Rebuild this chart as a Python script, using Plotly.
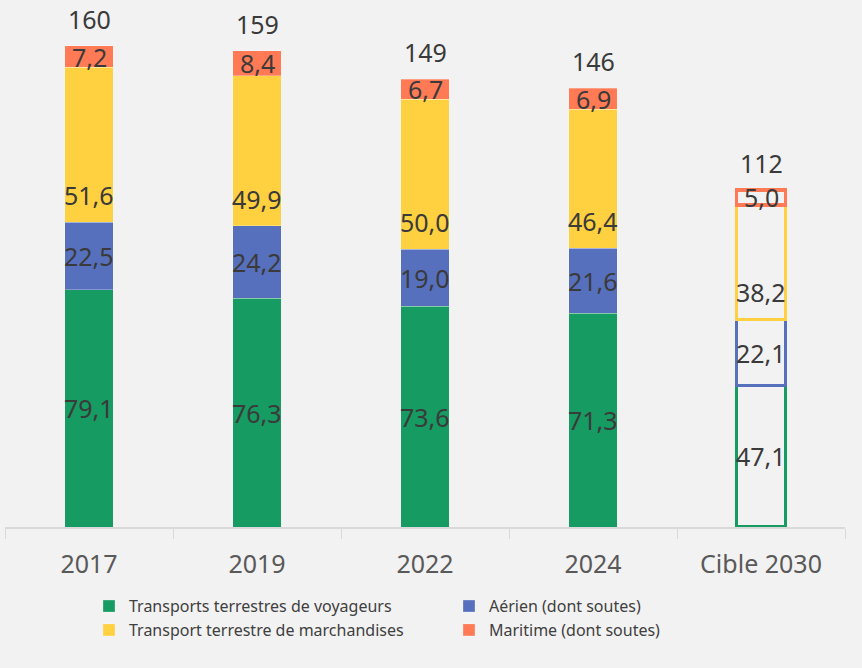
import plotly.graph_objects as go

categories = ["2017", "2019", "2022", "2024", "Cible 2030"]
voyageurs = [79.1, 76.3, 73.6, 71.3, 47.1]
aerien = [22.5, 24.2, 19.0, 21.6, 22.1]
marchandises = [51.6, 49.9, 50.0, 46.4, 38.2]
maritime = [7.2, 8.4, 6.7, 6.9, 5.0]

series = [
    ("Transports terrestres de voyageurs", voyageurs, "#169b62"),
    ("Aérien (dont soutes)", aerien, "#5770be"),
    ("Transport terrestre de marchandises", marchandises, "#ffd03f"),
    ("Maritime (dont soutes)", maritime, "#ff7a55"),
]

BG = "#f2f2f2"
TXT = "#3a3a3a"


def fr(v):
    return f"{v:.1f}".replace(".", ",")


fig = go.Figure()
annotations = []
base = [0.0] * len(categories)
for name, vals, col in series:
    n = len(vals)
    fig.add_trace(go.Bar(
        x=categories,
        y=vals,
        name=name,
        width=0.29,
        marker=dict(
            color=[col] * (n - 1) + ["rgba(0,0,0,0)"],
            line=dict(color=["rgba(255,255,255,0.35)"] * (n - 1) + [col],
                      width=[0.8] * (n - 1) + [3.5]),
        ),
        hoverinfo="x+y+name",
    ))
    for i, v in enumerate(vals):
        # yellow segment labels sit near the base (Excel "inside base")
        if name.startswith("Transport terrestre de"):
            ypos = base[i] + 9
        else:
            ypos = base[i] + v / 2
        # category index used as x (category axis)
        annotations.append(dict(x=i, y=ypos, text=fr(v), showarrow=False,
                                font=dict(size=25, color=TXT), yanchor="middle"))
        base[i] += v

# totals above bars
for i, tot in enumerate(base):
    annotations.append(dict(x=i, y=tot, text=str(round(tot)), showarrow=False,
                            font=dict(size=25, color=TXT), yanchor="middle", yshift=27))

fig.update_layout(
    barmode="stack",
    width=862,
    height=668,
    paper_bgcolor=BG,
    plot_bgcolor=BG,
    font=dict(family="Noto Sans, Lato, sans-serif", color=TXT),
    margin=dict(l=5, r=17, t=0, b=141),
    annotations=annotations,
    xaxis=dict(
        type="category",
        categoryorder="array",
        categoryarray=categories,
        range=[-0.5, len(categories) - 0.5],
        showgrid=False,
        showline=True,
        linecolor="#d9d9d9",
        linewidth=1.5,
        ticks="outside",
        tickson="boundaries",
        ticklen=10,
        tickcolor="#d9d9d9",
        tickangle=0,
        ticklabelstandoff=14,
        tickfont=dict(size=25, color="#595959"),
    ),
    yaxis=dict(visible=False, range=[0, 175.7]),
    legend=dict(
        orientation="h",
        x=0.1, xanchor="left",
        y=-0.118, yanchor="top",
        entrywidth=315,
        traceorder="normal",
        font=dict(size=16, color="#404040"),
        tracegroupgap=0,
    ),
    showlegend=True,
)

# remove the default page margin so the figure sits at the window's corner
fig.write_html("out.html", config={"displayModeBar": False},
               post_script="document.body.style.margin='0';")
